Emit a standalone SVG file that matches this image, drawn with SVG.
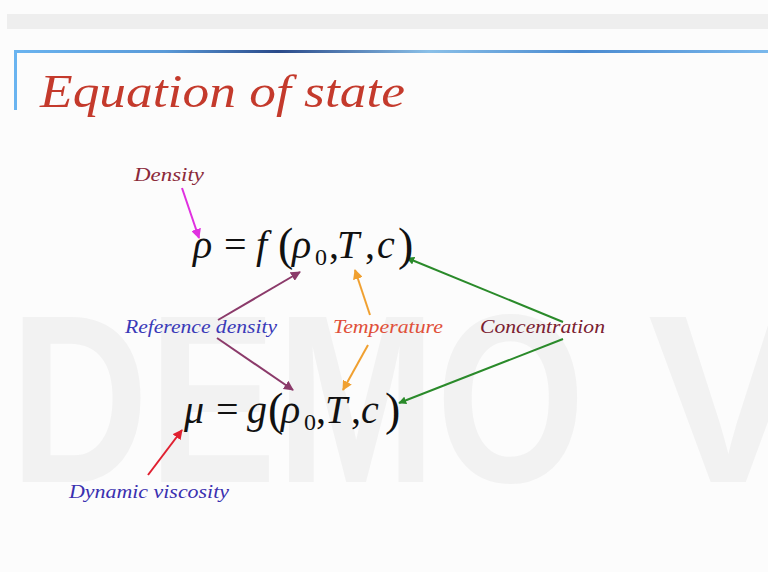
<svg xmlns="http://www.w3.org/2000/svg" width="768" height="572" viewBox="0 0 768 572">
<defs>
<linearGradient id="blueBar" x1="0" y1="0" x2="1" y2="0">
<stop offset="0" stop-color="#6ab4f0"/>
<stop offset="0.2" stop-color="#5a9ad8"/>
<stop offset="0.35" stop-color="#2a4a8a"/>
<stop offset="0.55" stop-color="#8ac0e8"/>
<stop offset="0.75" stop-color="#4a8ad0"/>
<stop offset="1" stop-color="#7ab8ec"/>
</linearGradient>
<marker id="mMag" viewBox="0 0 10 10" refX="9" refY="5" markerWidth="5" markerHeight="5" orient="auto"><path d="M0,0 L10,5 L0,10 z" fill="#e030e0"/></marker>
<marker id="mPur" viewBox="0 0 10 10" refX="9" refY="5" markerWidth="5" markerHeight="5" orient="auto"><path d="M0,0 L10,5 L0,10 z" fill="#8b3a6a"/></marker>
<marker id="mOra" viewBox="0 0 10 10" refX="9" refY="5" markerWidth="5" markerHeight="5" orient="auto"><path d="M0,0 L10,5 L0,10 z" fill="#f0a030"/></marker>
<marker id="mGrn" viewBox="0 0 10 10" refX="9" refY="5" markerWidth="4" markerHeight="4" orient="auto"><path d="M0,0 L10,5 L0,10 z" fill="#2a8a2a"/></marker>
<marker id="mRed" viewBox="0 0 10 10" refX="9" refY="5" markerWidth="5" markerHeight="5" orient="auto"><path d="M0,0 L10,5 L0,10 z" fill="#e02030"/></marker>
</defs>
<style>
.lbl{font-family:"Liberation Serif","Times New Roman",serif;font-style:italic;font-size:19px}
.eq{font-family:"Liberation Serif","Times New Roman",serif;font-size:40px;fill:#111}
.it{font-style:italic}
.par{font-size:46px}
.sub{font-size:24px}
.wm{font-family:"Liberation Sans",Arial,sans-serif;font-weight:bold;font-size:240px;fill:#f2f2f2}
.c{fill:none;stroke-width:2}
</style>
<rect x="0" y="0" width="768" height="572" fill="#fcfcfc"/>
<rect x="7" y="14" width="761" height="15" fill="#eeeeee"/>
<rect x="14" y="50" width="754" height="3" fill="url(#blueBar)"/>
<rect x="14" y="50" width="3" height="60" fill="#6ab4f0"/>
<g id="watermark">
<text class="wm" x="10" y="482" textLength="575" lengthAdjust="spacingAndGlyphs">DEMO</text>
<text class="wm" x="648" y="482">V</text>
</g>
<g id="title"><text x="40" y="107" font-family="Liberation Serif, serif" font-style="italic" font-size="46" fill="#c43a2c" textLength="365" lengthAdjust="spacingAndGlyphs">Equation of state</text></g>
<g id="connectors">
<line class="c" x1="182" y1="188" x2="199" y2="238" stroke="#e030e0" marker-end="url(#mMag)"/>
<line class="c" x1="218" y1="320" x2="300" y2="272" stroke="#8b3a6a" marker-end="url(#mPur)"/>
<line class="c" x1="217" y1="338" x2="293" y2="390" stroke="#8b3a6a" marker-end="url(#mPur)"/>
<line class="c" x1="370" y1="315" x2="355" y2="270" stroke="#f0a030" marker-end="url(#mOra)"/>
<line class="c" x1="368" y1="345" x2="343" y2="390" stroke="#f0a030" marker-end="url(#mOra)"/>
<line class="c" x1="563" y1="322" x2="407" y2="258" stroke="#2a8a2a" marker-end="url(#mGrn)"/>
<line class="c" x1="563" y1="339" x2="399" y2="403" stroke="#2a8a2a" marker-end="url(#mGrn)"/>
<line class="c" x1="148" y1="475" x2="182" y2="430" stroke="#e02030" marker-end="url(#mRed)"/>
</g>
<g id="density"><text class="lbl" x="134" y="181" fill="#8b2a3a" textLength="70" lengthAdjust="spacingAndGlyphs">Density</text></g>
<g id="eq-rho" class="eq">
<text class="it" x="193" y="258">ρ</text>
<text x="224" y="258">=</text>
<text class="it" x="256" y="258">f</text>
<text class="par" x="278" y="260">(</text>
<text class="it" x="292" y="258">ρ</text>
<text class="sub" x="315" y="265">0</text>
<text x="329" y="258">,</text>
<text class="it" x="337" y="258">T</text>
<text x="365" y="258">,</text>
<text class="it" x="377" y="258">c</text>
<text class="par" x="398" y="260">)</text>
</g>
<g id="eq-mu" class="eq">
<text class="it" x="184" y="423">μ</text>
<text x="216" y="423">=</text>
<text class="it" x="247" y="423">g</text>
<text class="par" x="268" y="425">(</text>
<text class="it" x="281" y="423">ρ</text>
<text class="sub" x="304" y="430">0</text>
<text x="316" y="423">,</text>
<text class="it" x="325" y="423">T</text>
<text x="351" y="423">,</text>
<text class="it" x="361" y="423">c</text>
<text class="par" x="385" y="425">)</text>
</g>
<g id="reference-density"><text class="lbl" x="125" y="333" fill="#3a3ab8" textLength="152" lengthAdjust="spacingAndGlyphs">Reference density</text></g>
<g id="temperature"><text class="lbl" x="333" y="333" fill="#e0503a" textLength="110" lengthAdjust="spacingAndGlyphs">Temperature</text></g>
<g id="concentration"><text class="lbl" x="480" y="333" fill="#7a2030" textLength="125" lengthAdjust="spacingAndGlyphs">Concentration</text></g>
<g id="dynamic-viscosity"><text class="lbl" x="69" y="498" fill="#3a30b0" textLength="160" lengthAdjust="spacingAndGlyphs">Dynamic viscosity</text></g>
</svg>
